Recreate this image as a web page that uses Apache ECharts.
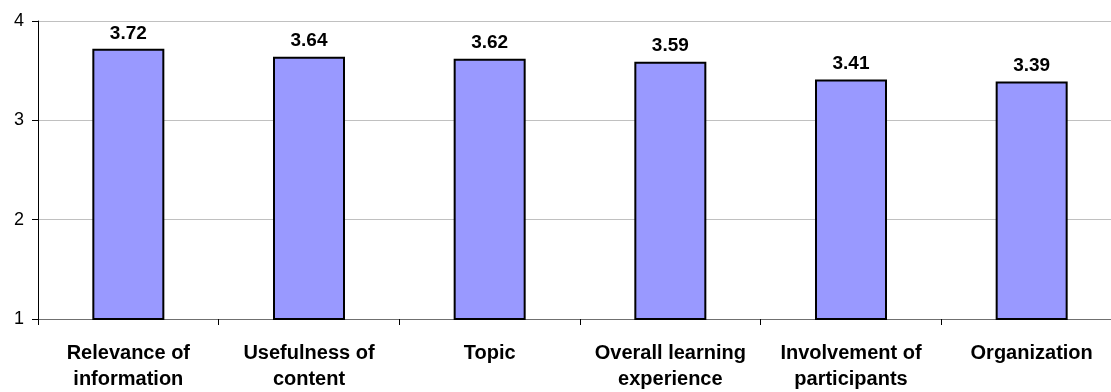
<!DOCTYPE html>
<html><head><meta charset="utf-8">
<script src="https://cdn.jsdelivr.net/npm/echarts@6/dist/echarts.min.js"></script>
<style>html,body{margin:0;padding:0;background:#fff;overflow:hidden}#c{width:1130px;height:392px}</style>
</head><body><div id="c"></div>
<script>
const categories = ["Relevance of\ninformation", "Usefulness of\ncontent", "Topic", "Overall learning\nexperience", "Involvement of\nparticipants", "Organization"];
const values = [3.72, 3.64, 3.62, 3.59, 3.41, 3.39];
const yTicks = [1, 2, 3, 4];

const chart = echarts.init(document.getElementById('c'));
chart.setOption({
  animation: false,
  grid: { left: 38, top: 21, width: 1084, height: 301, containLabel: false },
  xAxis: {
    type: 'category', data: categories,
    axisLine: { lineStyle: { color: '#707070', width: 1 } },
    axisTick: { show: true, length: 6, lineStyle: { color: '#000' } },
    axisLabel: { color: '#000', fontFamily: 'Liberation Sans, Arial', fontWeight: 'bold', fontSize: 20, lineHeight: 26, margin: 21, interval: 0 }
  },
  yAxis: {
    type: 'value', min: yTicks[0], max: yTicks[yTicks.length - 1], interval: 1,
    axisLine: { show: true, lineStyle: { color: '#000', width: 1 } },
    axisTick: { show: true, length: 6, lineStyle: { color: '#000' } },
    axisLabel: { color: '#000', fontFamily: 'Liberation Sans, Arial', fontSize: 18, margin: 14 },
    splitLine: { show: true, lineStyle: { color: '#c0c0c0', width: 1 } }
  },
  series: [{
    type: 'bar', data: values, barWidth: 72,
    itemStyle: { color: '#9999ff', borderColor: '#000', borderWidth: 2 },
    label: { show: true, position: 'top', distance: 6, color: '#000', fontFamily: 'Liberation Sans, Arial', fontWeight: 'bold', fontSize: 19, formatter: p => p.value.toFixed(2) }
  }]
});
</script></body></html>
